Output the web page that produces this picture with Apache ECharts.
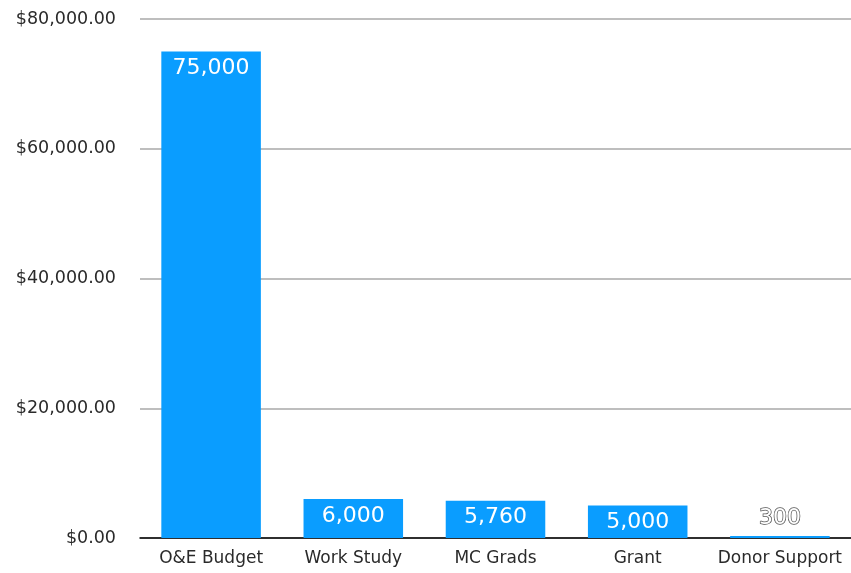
<!DOCTYPE html>
<html><head><meta charset="utf-8">
<script src="https://cdn.jsdelivr.net/npm/echarts@6/dist/echarts.min.js"></script>
<style>html,body{margin:0;padding:0;background:#fff}#c{width:851px;height:573px}</style>
</head><body><div id="c"></div>
<script>
const categories = ['O&E Budget', 'Work Study', 'MC Grads', 'Grant', 'Donor Support'];
const values = [75000, 6000, 5760, 5000, 300];

function fmtNum(v){ return v.toString().replace(/\B(?=(\d{3})+(?!\d))/g, ','); }
function fmtMoney(v){ return '$' + fmtNum(v) + '.00'; }
const FONT = 'DejaVu Sans, sans-serif';

const chart = echarts.init(document.getElementById('c'));
chart.setOption({
  animation: false,
  grid: { left: 140, right: 0, top: 19, bottom: 35, containLabel: false },
  xAxis: {
    type: 'category', data: categories,
    axisLine: { lineStyle: { color: '#000', width: 1.5 } },
    axisTick: { show: false },
    axisLabel: { interval: 0, hideOverlap: false, color: '#2a2a2a', fontSize: 17, fontFamily: FONT, margin: 12 }
  },
  yAxis: {
    type: 'value', min: 0, max: 80000, interval: 20000,
    axisLine: { show: false }, axisTick: { show: false },
    splitLine: { lineStyle: { color: '#a8a8a8', width: 1.5 } },
    axisLabel: { formatter: fmtMoney, color: '#2a2a2a', fontSize: 17.5, fontFamily: FONT, margin: 24 }
  },
  series: [{
    type: 'bar', barWidth: '70%',
    data: values.map((v, i) => i === values.length - 1 ? {
      value: v,
      label: { position: 'top', distance: 7, color: '#fff', textBorderColor: '#555', textBorderWidth: 1.5 }
    } : v),
    itemStyle: { color: '#0a9dff' },
    label: {
      show: true, position: 'insideTop', distance: 6,
      color: '#fff', fontSize: 22, fontFamily: FONT,
      formatter: p => fmtNum(p.value)
    }
  }]
});
</script></body></html>
